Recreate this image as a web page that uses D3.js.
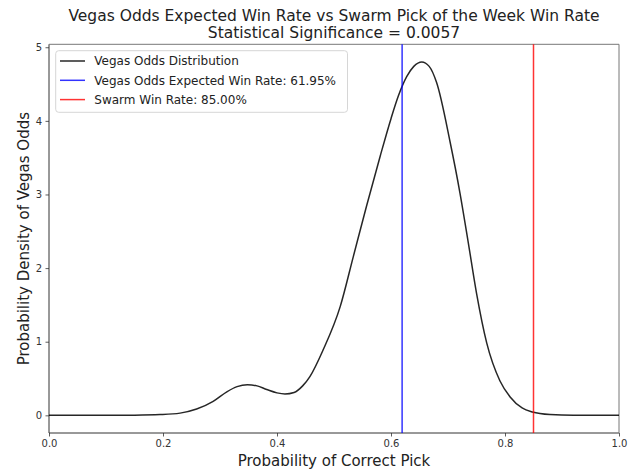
<!DOCTYPE html>
<html>
<head>
<meta charset="utf-8">
<script src="https://cdn.jsdelivr.net/npm/d3@7"></script>
<style>
  body { margin: 0; background: #fff; }
  svg { font-family: "DejaVu Sans", sans-serif; }
</style>
</head>
<body>
<svg id="chart" width="630" height="472"></svg>
<script>
// data
const probX = [0.0, 0.1, 0.15, 0.195, 0.23, 0.259, 0.288, 0.312, 0.33, 0.348, 0.365, 0.382, 0.4, 0.414, 0.43, 0.445, 0.458, 0.481, 0.511, 0.534, 0.557, 0.581, 0.6, 0.613, 0.6275, 0.64, 0.654, 0.667, 0.68, 0.7035, 0.721, 0.7357, 0.75, 0.768, 0.791, 0.809, 0.83, 0.848, 0.879, 0.92, 1.0]
const density = [0, 0, 0.002, 0.01, 0.03, 0.085, 0.19, 0.32, 0.39, 0.415, 0.4, 0.35, 0.305, 0.29, 0.31, 0.4, 0.53, 0.89, 1.48, 2.16, 2.84, 3.52, 4.03, 4.34, 4.6, 4.74, 4.8, 4.74, 4.52, 3.72, 3.02, 2.34, 1.66, 0.98, 0.47, 0.25, 0.1, 0.045, 0.01, 0, 0]
const vegasRate = 0.6195
const swarmRate = 0.85
const xTicks = [0, 0.2, 0.4, 0.6, 0.8, 1.0]
const yTicks = [0, 1, 2, 3, 4, 5]
const legendLabels = ['Vegas Odds Distribution', 'Vegas Odds Expected Win Rate: 61.95%', 'Swarm Win Rate: 85.00%']

const svg = d3.select('#chart')
const plotLeft = 49, plotRight = 619, plotTop = 44.3, plotBottom = 433
const curveColor = 'rgba(0,0,0,0.85)'
const blueColor = 'rgba(0,0,255,0.8)'
const redColor = 'rgba(255,0,0,0.8)'

const xScale = d3.scaleLinear().domain([0, 1]).range([plotLeft, plotRight])
const yScale = d3.scaleLinear().domain([-0.24, 5.04]).range([plotBottom, plotTop])

const points = probX.map((x, i) => [x, density[i]])

// axes
svg.append('g')
  .attr('transform', `translate(0, ${plotBottom})`)
  .call(d3.axisBottom(xScale).tickValues(xTicks).tickFormat(d3.format('.1f')).tickSize(3.5).tickPadding(3.5))
svg.append('g')
  .attr('transform', `translate(${plotLeft}, 0)`)
  .call(d3.axisLeft(yScale).tickValues(yTicks).tickFormat(d3.format('d')).tickSize(3.5).tickPadding(3.5))

svg.selectAll('.tick text')
  .style('font-size', '10px')
  .style('font-family', '"DejaVu Sans", sans-serif')
  .attr('fill', '#333')
svg.selectAll('.tick line').attr('stroke', '#333').attr('stroke-width', 0.8)
svg.selectAll('path.domain').remove()

// frame
svg.append('line').attr('x1', plotLeft).attr('x2', plotRight).attr('y1', plotBottom).attr('y2', plotBottom).attr('stroke', '#333').attr('stroke-width', 1)
svg.append('line').attr('x1', plotLeft).attr('x2', plotLeft).attr('y1', plotTop).attr('y2', plotBottom).attr('stroke', '#333').attr('stroke-width', 1)
svg.append('line').attr('x1', plotLeft).attr('x2', plotRight).attr('y1', plotTop).attr('y2', plotTop).attr('stroke', '#777').attr('stroke-width', 1)
svg.append('line').attr('x1', plotRight).attr('x2', plotRight).attr('y1', plotTop).attr('y2', plotBottom).attr('stroke', '#777').attr('stroke-width', 1)

// density curve
const line = d3.line()
  .x(d => xScale(d[0]))
  .y(d => yScale(d[1]))
  .curve(d3.curveMonotoneX)

svg.append('path')
  .datum(points)
  .attr('d', line)
  .attr('fill', 'none')
  .attr('stroke', curveColor)
  .attr('stroke-width', 1.5)

// vertical rate lines
svg.append('line')
  .attr('x1', xScale(vegasRate)).attr('x2', xScale(vegasRate))
  .attr('y1', plotTop).attr('y2', plotBottom)
  .attr('stroke', blueColor).attr('stroke-width', 1.5)
svg.append('line')
  .attr('x1', xScale(swarmRate)).attr('x2', xScale(swarmRate))
  .attr('y1', plotTop).attr('y2', plotBottom)
  .attr('stroke', redColor).attr('stroke-width', 1.5)

// legend
const legend = svg.append('g')
legend.append('rect')
  .attr('x', 55.7).attr('y', 50.7)
  .attr('width', 291.8).attr('height', 61.6)
  .attr('rx', 3).attr('ry', 3)
  .attr('fill', 'rgba(255,255,255,0.8)')
  .attr('stroke', '#d6d6d6').attr('stroke-width', 1)

const legendColors = [curveColor, blueColor, redColor]
legendLabels.forEach((lab, i) => {
  const yy = 61 + i * 19.3
  legend.append('line')
    .attr('x1', 60).attr('x2', 85).attr('y1', yy).attr('y2', yy)
    .attr('stroke', legendColors[i]).attr('stroke-width', 1.5)
  legend.append('text')
    .attr('x', 94.3).attr('y', yy + 4.3)
    .style('font-size', '12px')
    .attr('fill', '#222')
    .text(lab)
})

// titles
svg.append('text')
  .attr('x', (plotLeft + plotRight) / 2).attr('y', 20.7)
  .attr('text-anchor', 'middle')
  .style('font-size', '15.5px')
  .attr('fill', '#222')
  .text('Vegas Odds Expected Win Rate vs Swarm Pick of the Week Win Rate')
svg.append('text')
  .attr('x', (plotLeft + plotRight) / 2).attr('y', 37.5)
  .attr('text-anchor', 'middle')
  .style('font-size', '15.5px')
  .attr('fill', '#222')
  .text('Statistical Significance = 0.0057')

svg.append('text')
  .attr('x', (plotLeft + plotRight) / 2).attr('y', 465.5)
  .attr('text-anchor', 'middle')
  .style('font-size', '15px')
  .attr('fill', '#222')
  .text('Probability of Correct Pick')

svg.append('text')
  .attr('transform', `translate(29, ${(plotTop + plotBottom) / 2}) rotate(-90)`)
  .attr('text-anchor', 'middle')
  .style('font-size', '15px')
  .attr('fill', '#222')
  .text('Probability Density of Vegas Odds')
</script>
</body>
</html>
